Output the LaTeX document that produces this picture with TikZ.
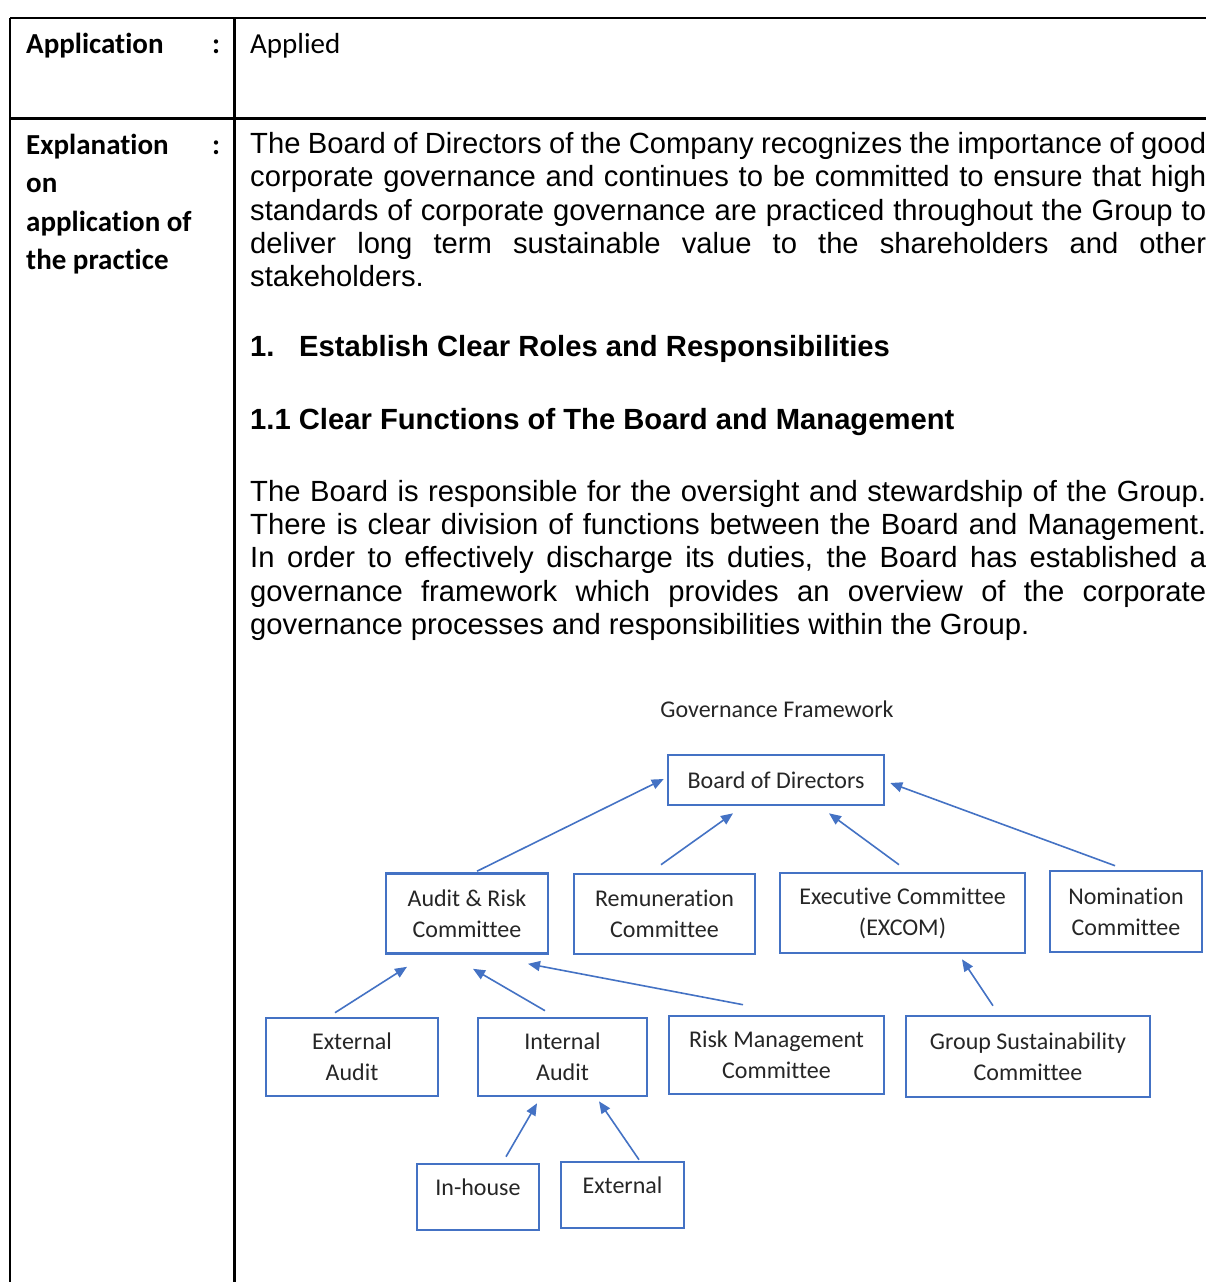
\documentclass[tikz,border=0pt]{standalone}
\usepackage{fontspec}
\setmainfont{Liberation Sans}
\newfontfamily\calfont[Ligatures=CommonOff]{Carlito}
\usetikzlibrary{arrows.meta,calc}
\definecolor{obl}{HTML}{4472C4}
\definecolor{txtg}{HTML}{262626}
\begin{document}
\begin{tikzpicture}[x=1pt,y=-1pt,
  rule/.style={line width=2.4pt, black},
  lbl/.style={anchor=base west, inner sep=0pt, font=\calfont\bfseries\fontsize{29}{35}\selectfont},
  lblr/.style={anchor=base west, inner sep=0pt, font=\calfont\fontsize{29}{35}\selectfont},
  body/.style={anchor=base west, inner sep=0pt, font=\fontsize{29.2}{33}\selectfont},
  headg/.style={anchor=base west, inner sep=0pt, font=\bfseries\fontsize{29.2}{33}\selectfont},
  box/.style={draw=obl, line width=2.6pt, align=center, inner sep=0pt, text=txtg, font=\calfont\fontsize{24}{31}\selectfont},
  arr/.style={draw=obl, line width=1.6pt, -{Triangle[length=12pt,width=10pt]}},
]
\useasboundingbox[fill=white] (0,0) rectangle (1206,1282);
% table rules
\coordinate (tl) at (10,18);
\coordinate (tr) at (1206,18);
\coordinate (ml) at (10,118.3);
\coordinate (mr) at (1206,118.3);
\coordinate (bl) at (10,1282);
\coordinate (tm) at (234.3,18);
\coordinate (bm) at (234.3,1282);
\draw[rule] (tl) -- (tr);
\draw[rule] (ml) -- (mr);
\draw[rule] (tl) -- (bl);
\draw[rule] (tm) -- (bm);
% left column
\node[lbl] (lapp) at (26,53) {Application};
\node[lbl] (lcol1) at (212,53) {:};
\node[lblr] (vapp) at (250,53) {Applied};
\node[lbl] (lexp1) at (26,154) {Explanation};
\node[lbl] (lcol2) at (212,154) {:};
\node[lbl] (lexp2) at (26,192.5) {on};
\node[lbl] (lexp3) at (26,231) {application of};
\node[lbl] (lexp4) at (26,269.5) {the practice};
% paragraph 1
\node[body] (p1a) at (250,153.5) {\makebox[956pt][s]{The Board of Directors of the Company recognizes the importance of good}};
\node[body] (p1b) at (250,186.8) {\makebox[956pt][s]{corporate governance and continues to be committed to ensure that high}};
\node[body] (p1c) at (250,220.1) {\makebox[956pt][s]{standards of corporate governance are practiced throughout the Group to}};
\node[body] (p1d) at (250,253.4) {\makebox[956pt][s]{deliver long term sustainable value to the shareholders and other}};
\node[body] (p1e) at (250,286.7) {stakeholders.};
% headings
\node[headg] (h1) at (250,356) {\makebox[49pt][l]{1.}Establish Clear Roles and Responsibilities};
\node[headg] (h2) at (250,429) {1.1 Clear Functions of The Board and Management};
% paragraph 2
\node[body] (p2a) at (250,501) {\makebox[956pt][s]{The Board is responsible for the oversight and stewardship of the Group.}};
\node[body] (p2b) at (250,534.4) {\makebox[956pt][s]{There is clear division of functions between the Board and Management.}};
\node[body] (p2c) at (250,567.8) {\makebox[956pt][s]{In order to effectively discharge its duties, the Board has established a}};
\node[body] (p2d) at (250,601.2) {\makebox[956pt][s]{governance framework which provides an overview of the corporate}};
\node[body] (p2e) at (250,634.6) {governance processes and responsibilities within the Group.};
% diagram
\node[font=\calfont\fontsize{24}{28}\selectfont, text=txtg, inner sep=0pt] (title) at (777,709) {Governance Framework};
\node[box, minimum width=216pt, minimum height=50pt] (board) at (776,780) {Board of Directors};
\node[box, minimum width=162pt, minimum height=80pt] (audit) at (467,913.5) {Audit \& Risk\\Committee};
\node[box, minimum width=181pt, minimum height=80pt] (remun) at (664.5,914) {Remuneration\\Committee};
\node[box, minimum width=245pt, minimum height=80pt] (excom) at (902.5,913) {Executive Committee\\(EXCOM)};
\node[box, minimum width=152pt, minimum height=81pt] (nomin) at (1126,911.5) {Nomination\\Committee};
\node[box, minimum width=172pt, minimum height=78pt] (extaudit) at (352,1057) {External\\Audit};
\node[box, minimum width=169pt, minimum height=78pt] (intaudit) at (562.5,1057) {Internal\\Audit};
\node[box, minimum width=215pt, minimum height=78pt] (risk) at (776.5,1055) {Risk Management\\Committee};
\node[box, minimum width=244pt, minimum height=81pt] (gsc) at (1028,1056.5) {Group Sustainability\\Committee};
\node[box, minimum width=122pt, minimum height=66pt, text depth=20pt] (inhouse) at (478,1197) {In-house};
\node[box, minimum width=123pt, minimum height=66pt, text depth=20pt] (external) at (622.5,1195) {External};
% connectors
\draw[arr] ($(audit.north)+(10,-1)$) -- ($(board.west)+(-3,-1)$);
\draw[arr] ($(remun.north)+(-3.5,-8)$) -- ($(board.south)+(-43,7)$);
\draw[arr] ($(excom.north)+(-3.5,-7)$) -- ($(board.south)+(53,7)$);
\draw[arr] ($(nomin.north)+(-11,-4)$) -- ($(board.east)+(5,3)$);
\draw[arr] ($(extaudit.north)+(-17,-4)$) -- ($(audit.south)+(-60,12)$);
\draw[arr] ($(intaudit.north)+(-17.5,-6)$) -- ($(audit.south)+(6,14)$);
\draw[arr] ($(risk.north)+(-33.5,-10)$) -- ($(audit.south)+(61,9)$);
\draw[arr] ($(gsc.north)+(-35,-9)$) -- ($(excom.south)+(59.5,5)$);
\draw[arr] ($(inhouse.north)+(28,-6)$) -- ($(intaudit.south)+(-25.5,6)$);
\draw[arr] ($(external.north)+(16.5,-1)$) -- ($(intaudit.south)+(36.5,4)$);
\end{tikzpicture}
\end{document}
